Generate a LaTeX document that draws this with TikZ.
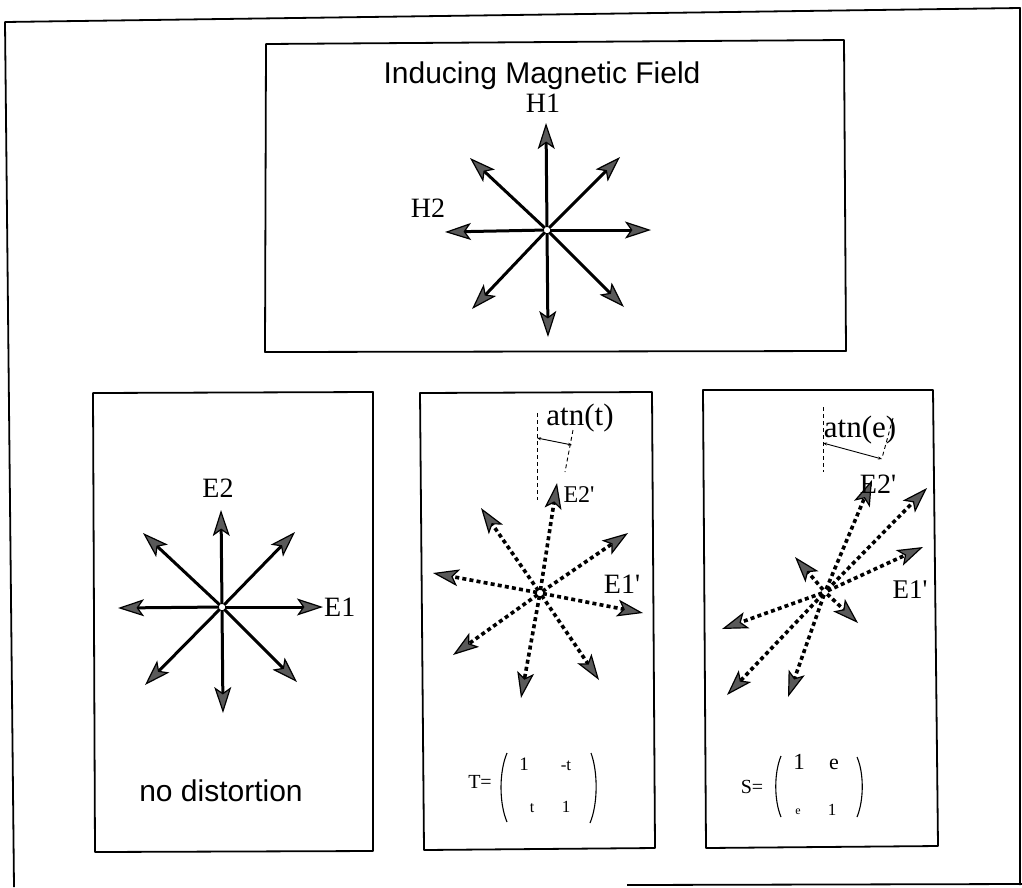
\documentclass[tikz,border=0pt]{standalone}
\usepackage{fontspec}
\setmainfont{Liberation Serif}
\newfontfamily\helv{Liberation Sans}
\usetikzlibrary{arrows.meta}
\newcommand{\pr}{\textquotesingle}
\begin{document}
\begin{tikzpicture}[x=1pt,y=-1pt,
  frame/.style={line width=1.8pt, line join=round},
  vec/.style={line width=3pt, shorten <=3pt,
    -{Stealth[length=26pt,width=17pt,inset=6pt,fill=black!65,line width=1.2pt]}},
  dvec/.style={vec, dash pattern=on 4pt off 3.2pt, line width=3.6pt},
  lab/.style={inner sep=0pt, anchor=base, font=\fontsize{28}{30}\selectfont},
  sanslab/.style={inner sep=0pt, anchor=base, font=\helv\fontsize{30}{32}\selectfont},
  guide/.style={line width=0.9pt, dash pattern=on 4pt off 3pt},
  angarrow/.style={line width=0.9pt, {Stealth[length=4pt,width=3pt]}-{Stealth[length=4pt,width=3pt]}},
  paren/.style={line width=1.1pt},
  ment/.style={inner sep=0pt, anchor=base}
]
\useasboundingbox (0,0) rectangle (1022,887);
\fill[white] (0,0) rectangle (1022,887);

% outer frame
\draw[frame] (14,887) -- (5,22) -- (1020,8) -- (1020,885);
\draw[frame] (627,885) -- (1022,884);

% boxes
\draw[frame] (266,44) -- (844,40) -- (846,351) -- (265,352) -- cycle;
\draw[frame] (93,393) -- (373,392) -- (373,851) -- (95,852) -- cycle;
\draw[frame] (420,393) -- (652,392) -- (655,848) -- (424,850) -- cycle;
\draw[frame] (703,390) -- (933,390) -- (938,846) -- (706,848) -- cycle;

% ---------- top star ----------
\node[sanslab] (title) at (542,83) {Inducing Magnetic Field};
\coordinate (hc) at (547,230);
\coordinate (hn) at (546,123);
\coordinate (hs) at (548,337);
\coordinate (hw) at (445,232);
\coordinate (he) at (651,230);
\coordinate (hnw) at (470,158);
\coordinate (hne) at (620,157);
\coordinate (hsw) at (472,309);
\coordinate (hse) at (624,307);
\foreach \t in {hn,hs,hw,he,hnw,hne,hsw,hse} \draw[vec] (hc) -- (\t);
\node[lab] (H1) at (543,112) {H1};
\node[lab] (H2) at (428,217) {H2};

% ---------- panel 1 ----------
\coordinate (ac) at (222,607);
\coordinate (an) at (221,510);
\coordinate (as) at (223,713);
\coordinate (aw) at (118,608);
\coordinate (ae) at (323,607);
\coordinate (anw) at (143,533);
\coordinate (ane) at (295,532);
\coordinate (asw) at (145,685);
\coordinate (ase) at (297,682);
\foreach \t in {an,as,aw,ae,anw,ane,asw,ase} \draw[vec] (ac) -- (\t);
\node[lab] (E2) at (218,497) {E2};
\node[lab, anchor=base west] (E1) at (324,616) {E1};
\node[sanslab] (nodist) at (221,801) {no distortion};

% ---------- panel 2 ----------
\coordinate (bc) at (540,593);
\coordinate (bn) at (557,483);
\coordinate (bnw) at (481,508);
\coordinate (bw) at (433,573);
\coordinate (bne) at (628,533);
\coordinate (be) at (643,613);
\coordinate (bsw) at (453,655);
\coordinate (bs) at (521,698);
\coordinate (bse) at (599,680);
\foreach \t in {bn,bnw,bw,bne,be,bsw,bs,bse} \draw[dvec] (bc) -- (\t);
\node[lab, font=\fontsize{24}{26}\selectfont] (E2b) at (579,502) {E2\pr};
\node[lab] (E1b) at (622,593) {E1\pr};
\node[lab, font=\fontsize{31}{33}\selectfont] (atnt) at (580,425) {atn(t)};
\coordinate (bv1) at (537,413);
\coordinate (bv2) at (537,500);
\coordinate (bs1) at (573,430);
\coordinate (bs2) at (565,472);
\coordinate (ba1) at (537,438);
\coordinate (ba2) at (572,445);
\draw[guide] (bv1) -- (bv2);
\draw[guide] (bs1) -- (bs2);
\draw[angarrow] (ba1) -- (ba2);
% matrix T
\node[ment, font=\fontsize{20}{22}\selectfont] (Teq) at (480,788) {T=};
\node[ment, font=\fontsize{19}{21}\selectfont] (T11) at (524,770) {1};
\node[ment, font=\fontsize{17}{19}\selectfont] (T12) at (566,770) {-t};
\node[ment, font=\fontsize{16}{18}\selectfont] (T21) at (532,812) {t};
\node[ment, font=\fontsize{17}{19}\selectfont] (T22) at (566,812) {1};
\coordinate (tl1) at (507,753);
\coordinate (tl2) at (507,822);
\coordinate (tr1) at (591,753);
\coordinate (tr2) at (590,823);
\draw[paren] (tl1) .. controls (499,772) and (499,803) .. (tl2);
\draw[paren] (tr1) .. controls (598,772) and (598,804) .. (tr2);

% ---------- panel 3 ----------
\coordinate (cc) at (825,592);
\coordinate (cn) at (872,480);
\coordinate (cne) at (927,488);
\coordinate (ce) at (923,547);
\coordinate (cnw) at (795,557);
\coordinate (cse) at (858,623);
\coordinate (cw) at (722,629);
\coordinate (csw) at (727,695);
\coordinate (cs) at (788,697);
\foreach \t in {cn,cne,ce,cnw,cse,cw,csw,cs} \draw[dvec] (cc) -- (\t);
\node[lab] (E2c) at (878,493) {E2\pr};
\node[lab, font=\fontsize{27}{29}\selectfont] (E1c) at (910,598) {E1\pr};
\node[lab, font=\fontsize{31}{33}\selectfont] (atne) at (860,437) {atn(e)};
\coordinate (cv1) at (823,407);
\coordinate (cv2) at (823,472);
\coordinate (cs1) at (893,418);
\coordinate (cs2) at (882,458);
\coordinate (ca1) at (823,443);
\coordinate (ca2) at (882,459);
\draw[guide] (cv1) -- (cv2);
\draw[guide] (cs1) -- (cs2);
\draw[angarrow] (ca1) -- (ca2);
% matrix S
\node[ment, font=\fontsize{20}{22}\selectfont] (Seq) at (752,793) {S=};
\node[ment, font=\fontsize{23}{25}\selectfont] (S11) at (799,769) {1};
\node[ment, font=\fontsize{22}{24}\selectfont] (S12) at (834,769) {e};
\node[ment, font=\fontsize{12}{14}\selectfont] (S21) at (798,814) {e};
\node[ment, font=\fontsize{17}{19}\selectfont] (S22) at (832,815) {1};
\coordinate (sl1) at (781,756);
\coordinate (sl2) at (781,817);
\coordinate (sr1) at (857,757);
\coordinate (sr2) at (857,817);
\draw[paren] (sl1) .. controls (774,773) and (774,800) .. (sl2);
\draw[paren] (sr1) .. controls (864,773) and (864,800) .. (sr2);
\end{tikzpicture}
\end{document}
